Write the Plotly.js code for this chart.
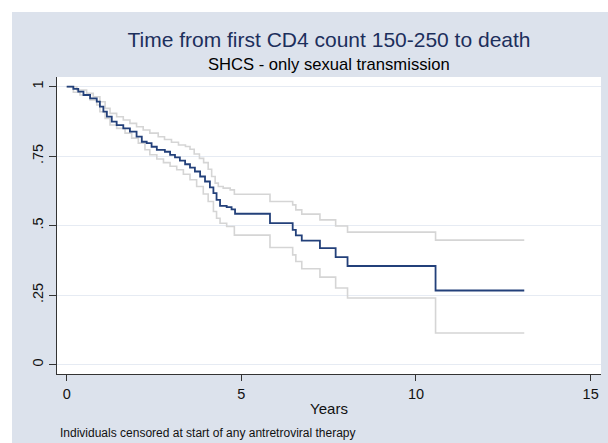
<!DOCTYPE html>
<html>
<head>
<meta charset="utf-8">
<script src="https://cdn.plot.ly/plotly-3.0.1.min.js"></script>
<style>html,body{margin:0;padding:0;background:#fff;}#chart{width:608px;height:443px;}</style>
</head>
<body>
<div id="chart"></div>
<script>
// Kaplan-Meier estimate (years, survival)
const tMain = [0,0.19,0.33,0.48,0.67,0.86,0.95,1.05,1.15,1.29,1.43,1.62,1.81,2.0,2.15,2.29,2.43,2.58,2.81,2.96,3.1,3.24,3.39,3.53,3.67,3.82,3.96,4.1,4.2,4.29,4.39,4.58,4.72,4.82,5.82,6.47,6.56,6.73,7.25,7.70,8.04,10.56,13.1];
const sMain = [1.0,0.992,0.982,0.970,0.958,0.946,0.928,0.910,0.892,0.874,0.862,0.850,0.838,0.820,0.802,0.797,0.784,0.773,0.766,0.755,0.746,0.734,0.721,0.709,0.695,0.677,0.659,0.638,0.617,0.593,0.571,0.567,0.559,0.543,0.509,0.485,0.465,0.446,0.419,0.387,0.355,0.267,0.267];
// upper confidence limit
const tUp = [0,0.29,0.57,0.76,0.95,1.1,1.24,1.43,1.62,1.81,2.0,2.19,2.38,2.62,2.8,3.0,3.2,3.4,3.53,3.65,3.8,3.92,4.05,4.15,4.25,4.34,4.48,4.68,4.8,5.82,6.47,6.56,6.73,7.25,7.70,8.04,10.56,13.1];
const sUp = [1.0,0.988,0.976,0.964,0.946,0.922,0.904,0.892,0.880,0.868,0.856,0.844,0.833,0.820,0.810,0.800,0.790,0.785,0.775,0.758,0.742,0.727,0.703,0.677,0.653,0.641,0.635,0.629,0.613,0.587,0.575,0.557,0.5415,0.521,0.499,0.477,0.448,0.448];
// lower confidence limit
const tLo = [0,0.19,0.38,0.67,0.86,0.95,1.1,1.24,1.43,1.67,1.86,2.05,2.24,2.38,2.58,2.77,2.96,3.15,3.34,3.53,3.72,3.91,4.05,4.2,4.29,4.39,4.58,4.8,5.82,6.47,6.56,6.73,7.25,7.70,8.04,10.56,13.1];
const sLo = [1.0,0.980,0.970,0.952,0.934,0.910,0.886,0.862,0.850,0.833,0.815,0.797,0.773,0.755,0.740,0.727,0.714,0.701,0.685,0.665,0.641,0.614,0.587,0.551,0.527,0.509,0.497,0.466,0.4215,0.395,0.371,0.345,0.315,0.276,0.240,0.114,0.114];

const xTicks = [0,5,10,15];
const xTickText = ['0','5','10','15'];
const yTicks = [0,0.25,0.5,0.75,1];
const yTickText = ['0','.25','.5','.75','1'];

const titleText = 'Time from first CD4 count 150-250 to death';
const subtitleText = 'SHCS - only sexual transmission';
const xTitleText = 'Years';
const noteText = 'Individuals censored at start of any antretroviral therapy';

const W = 608, H = 443;
const M = {l:57, r:7, t:77, b:69};
const pw = W - M.l - M.r, ph = H - M.t - M.b;
const FONT = 'Liberation Sans, Arial, Helvetica, sans-serif';
const BG = '#dce2ec';
const GRID = '#e6ebf3';
// helpers: pixel -> paper coordinates (for decorations only)
const px = v => (v - M.l) / pw;
const py = v => (H - M.b - v) / ph;

const ciStyle = {color:'#d5d5d5', width:1.6, shape:'hv'};
const traces = [
  {x:tUp, y:sUp, type:'scatter', mode:'lines', line:ciStyle, hoverinfo:'skip'},
  {x:tLo, y:sLo, type:'scatter', mode:'lines', line:ciStyle, hoverinfo:'skip'},
  {x:tMain, y:sMain, type:'scatter', mode:'lines', line:{color:'#23407a', width:1.8, shape:'hv'}, hoverinfo:'skip'}
];

const layout = {
  width:W, height:H,
  margin:M,
  paper_bgcolor:BG,
  plot_bgcolor:'#ffffff',
  showlegend:false,
  font:{family:FONT, color:'#000'},
  title:{text:titleText, font:{family:FONT, size:21, color:'#1c2f5c'},
         x:0.5, xref:'paper', xanchor:'center', y:1 - 39.5/H, yref:'container', yanchor:'middle'},
  xaxis:{range:[-0.278, 15.297], tickvals:xTicks, ticktext:xTickText,
         ticks:'outside', ticklen:6, tickwidth:1, tickcolor:'#333',
         showline:true, linecolor:'#333', linewidth:1.2,
         showgrid:false, zeroline:false,
         tickfont:{family:FONT, size:14.5, color:'#111'},
         title:{text:xTitleText, font:{family:FONT, size:15, color:'#111'}, standoff:3}},
  yaxis:{range:[-0.0334, 1.0348], tickvals:yTicks, ticktext:yTickText,
         ticks:'outside', ticklen:7, tickwidth:1, tickcolor:'#333', tickangle:-90,
         showline:true, linecolor:'#333', linewidth:1.2,
         showgrid:true, gridcolor:GRID, gridwidth:1, zeroline:false,
         tickfont:{family:FONT, size:14.5, color:'#111'}},
  annotations:[
    {text:subtitleText, xref:'paper', yref:'paper', x:0.5, y:py(65), xanchor:'center', yanchor:'middle',
     showarrow:false, font:{family:FONT, size:16.6, color:'#000'}},
    {text:noteText, xref:'paper', yref:'paper', x:px(57.5), y:py(433), xanchor:'left', yanchor:'middle',
     showarrow:false, font:{family:FONT, size:12, color:'#111'}}
  ],
  shapes:[
    {type:'rect', xref:'paper', yref:'paper', x0:px(0), x1:px(12), y0:py(H), y1:py(0), fillcolor:'#ffffff', line:{width:0}, layer:'above'},
    {type:'rect', xref:'paper', yref:'paper', x0:px(0), x1:px(W), y0:py(12), y1:py(0), fillcolor:'#ffffff', line:{width:0}, layer:'above'}
  ]
};

Plotly.newPlot('chart', traces, layout, {displayModeBar:false, staticPlot:true});
</script>
</body>
</html>
